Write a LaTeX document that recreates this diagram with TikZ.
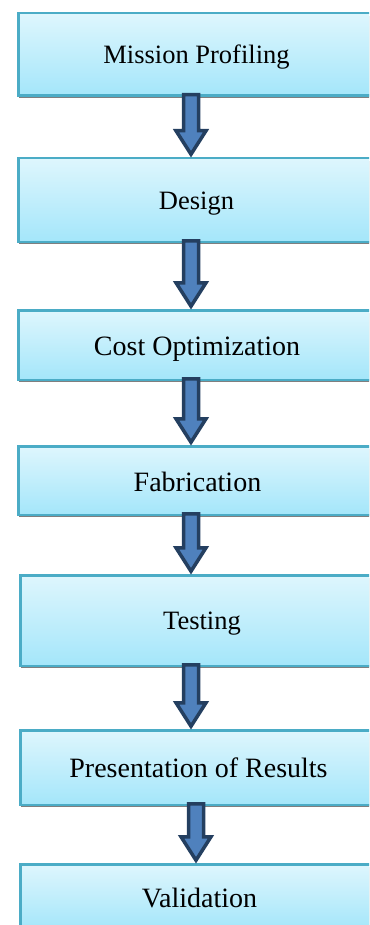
\documentclass[tikz,border=0pt]{standalone}
\usepackage{fontspec}
\setmainfont{Liberation Serif}
\usetikzlibrary{shadows,calc}
\definecolor{boxtop}{HTML}{DEF6FD}
\definecolor{boxbot}{HTML}{A4E6FA}
\definecolor{boxline}{HTML}{4BACC6}
\definecolor{arrfill}{HTML}{4F81BD}
\definecolor{arrline}{HTML}{243F60}
\definecolor{shadowgray}{HTML}{7F7F7F}
\tikzset{
 stagebox/.style={draw=boxline, line width=2.5pt, top color=boxtop, bottom color=boxbot,
   minimum width=420pt, inner sep=0pt, outer sep=0pt, anchor=west,
   drop shadow={shadow xshift=0.5pt, shadow yshift=-2.5pt, fill=shadowgray, opacity=1}},
 timesfont/.style={font=\fontsize{26.5}{30}\selectfont, anchor=base, inner sep=0pt},
 cambfont/.style={font=\fontsize{28}{32}\selectfont, anchor=base, inner sep=0pt},
 blockarrow/.style={draw=arrline, fill=arrfill, line width=3.5pt, line join=miter, miter limit=10},
}
\newcommand{\flowarrow}[3]{%
 \draw[blockarrow] let \p1=(#1.south), \p2=(#2.north) in
 (#3-7.5pt,\y1+1pt) -- (#3-7.5pt,\y2+27.5pt) -- (#3-15pt,\y2+27.5pt) -- (#3,\y2+4pt)
 -- (#3+15pt,\y2+27.5pt) -- (#3+7.5pt,\y2+27.5pt) -- (#3+7.5pt,\y1+1pt) -- cycle;}
\begin{document}
\begin{tikzpicture}[x=1pt,y=-1pt]
\useasboundingbox (0,0) rectangle (369,925);
\clip (0,0) rectangle (369,925);
% boxes
\node[stagebox, minimum height=82.5pt] (m1) at (18.25,54.5) {};
\node[stagebox, minimum height=83.5pt] (m2) at (18.25,200) {};
\node[stagebox, minimum height=69.5pt] (m3) at (18.25,345) {};
\node[stagebox, minimum height=68.5pt] (m4) at (18.25,480.5) {};
\node[stagebox, minimum height=90.5pt] (m5) at (20.25,620.5) {};
\node[stagebox, minimum height=74.5pt] (m6) at (20.25,767.5) {};
\node[stagebox, minimum height=65.5pt] (m7) at (20.25,897) {};
% texts
\node[timesfont] (t1) at (196.5,64) {Mission Profiling};
\node[timesfont] (t2) at (196.5,210) {Design};
\node[cambfont] (t3) at (197,355) {Cost Optimization};
\node[cambfont] (t4) at (197.5,491) {Fabrication};
\node[timesfont] (t5) at (202,629) {Testing};
\node[cambfont] (t6) at (198.5,777) {Presentation of Results};
\node[cambfont] (t7) at (199.5,907) {Validation};
% arrows
\flowarrow{m1}{m2}{191pt}
\flowarrow{m2}{m3}{191pt}
\flowarrow{m3}{m4}{191pt}
\flowarrow{m4}{m5}{191pt}
\flowarrow{m5}{m6}{191pt}
\flowarrow{m6}{m7}{196pt}
\end{tikzpicture}
\end{document}
